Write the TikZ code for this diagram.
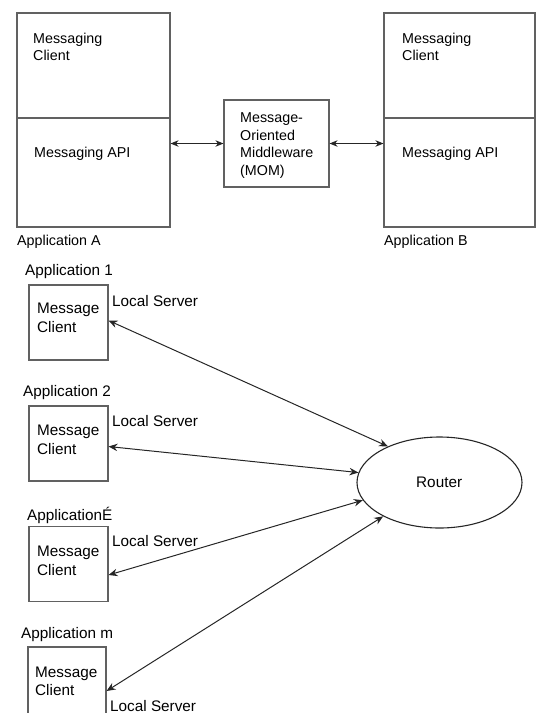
\documentclass[tikz,border=0pt]{standalone}
\usepackage{fontspec}
\setmainfont{Liberation Sans}
\usetikzlibrary{shapes.geometric,arrows.meta}
\begin{document}
\begin{tikzpicture}[x=1pt,y=-1pt,
  box/.style={draw=black!62,line width=1.1pt,rectangle,inner sep=0pt},
  up/.style={inner sep=0pt,anchor=base west,text=black,font=\fontsize{14.3}{17}\selectfont},
  lo/.style={inner sep=0pt,anchor=base west,text=black,font=\fontsize{15.3}{18}\selectfont},
  conn/.style={draw=black!85,line width=1pt,{Stealth[length=8pt,width=6.5pt,inset=2.5pt]}-{Stealth[length=8pt,width=6.5pt,inset=2.5pt]}},
  connb/.style={draw=black!85,line width=1pt,{Stealth[length=9pt,width=7.5pt,inset=3pt]}-{Stealth[length=9pt,width=7.5pt,inset=3pt]}}]
\useasboundingbox (0,0) rectangle (536,713);
\clip (0,0) rectangle (536,713);
% ---------- upper diagram ----------
\node[box,minimum width=153pt,minimum height=214pt] (A) at (93.5,120) {};
\node[box,minimum width=151pt,minimum height=214pt] (B) at (459.5,120) {};
\node[box,minimum width=105pt,minimum height=87pt] (M) at (276.5,143.5) {};
\draw[draw=black!62,line width=1.1pt] ([yshift=2pt]A.west) -- ([yshift=2pt]A.east);
\draw[draw=black!62,line width=1.1pt] ([yshift=2pt]B.west) -- ([yshift=2pt]B.east);
\node[up] (a1) at (33,43) {Messaging};
\node[up] (a2) at (33,60) {Client};
\node[up] (a3) at (34,157) {Messaging API};
\node[up] (b1) at (402,43) {Messaging};
\node[up] (b2) at (402,60) {Client};
\node[up] (b3) at (402,157) {Messaging API};
\node[up] (al) at (17,245) {Application A};
\node[up] (bl) at (384,245) {Application B};
\node[up] (m1) at (240,122) {Message-};
\node[up] (m2) at (240,140) {Oriented};
\node[up] (m3) at (240,157.5) {Middleware};
\node[up] (m4) at (240,175) {(MOM)};
\draw[conn] (M.west -| A.east) -- (M.west);
\draw[conn] (M.east) -- (M.east -| B.west);
% ---------- lower diagram ----------
\node[box,minimum width=79pt,minimum height=75pt] (c1) at (68.5,322.5) {};
\node[box,minimum width=79pt,minimum height=75pt] (c2) at (68.5,443.5) {};
\node[box,minimum width=79pt,minimum height=75pt] (c3) at (68.5,564) {};
\node[box,minimum width=78pt,minimum height=80pt] (c4) at (67,687) {};
\node[draw=black!85,line width=1.1pt,ellipse,inner sep=0pt,minimum width=165pt,minimum height=91pt] (R) at (439.5,482.5) {};
\node[lo] (rt) at (416,487) {Router};
\node[lo] (l1) at (25,275) {Application 1};
\node[lo] (l2) at (23,396) {Application 2};
\node[lo] (l3) at (27,520) {ApplicationÉ};
\node[lo] (l4) at (21,638) {Application m};
\node[lo] (s1) at (112,306.5) {Local Server};
\node[lo] (s2) at (112,426.5) {Local Server};
\node[lo] (s3) at (112,546.5) {Local Server};
\node[lo] (s4) at (110,711) {Local Server};
\node[lo] (p1) at (37,313.5) {Message};
\node[lo] (q1) at (37,332) {Client};
\node[lo] (p2) at (37,435) {Message};
\node[lo] (q2) at (37,454) {Client};
\node[lo] (p3) at (37,556) {Message};
\node[lo] (q3) at (37,575) {Client};
\node[lo] (p4) at (35,677) {Message};
\node[lo] (q4) at (35,695) {Client};
\draw[connb] ([yshift=2pt]c1.east) -- (R.145);
\draw[connb] ([yshift=-3pt]c2.east) -- (R.173);
\draw[connb] ([yshift=-11pt]c3.east) -- (R.193);
\draw[connb] ([yshift=-4pt]c4.east) -- (R.211);
\end{tikzpicture}
\end{document}
